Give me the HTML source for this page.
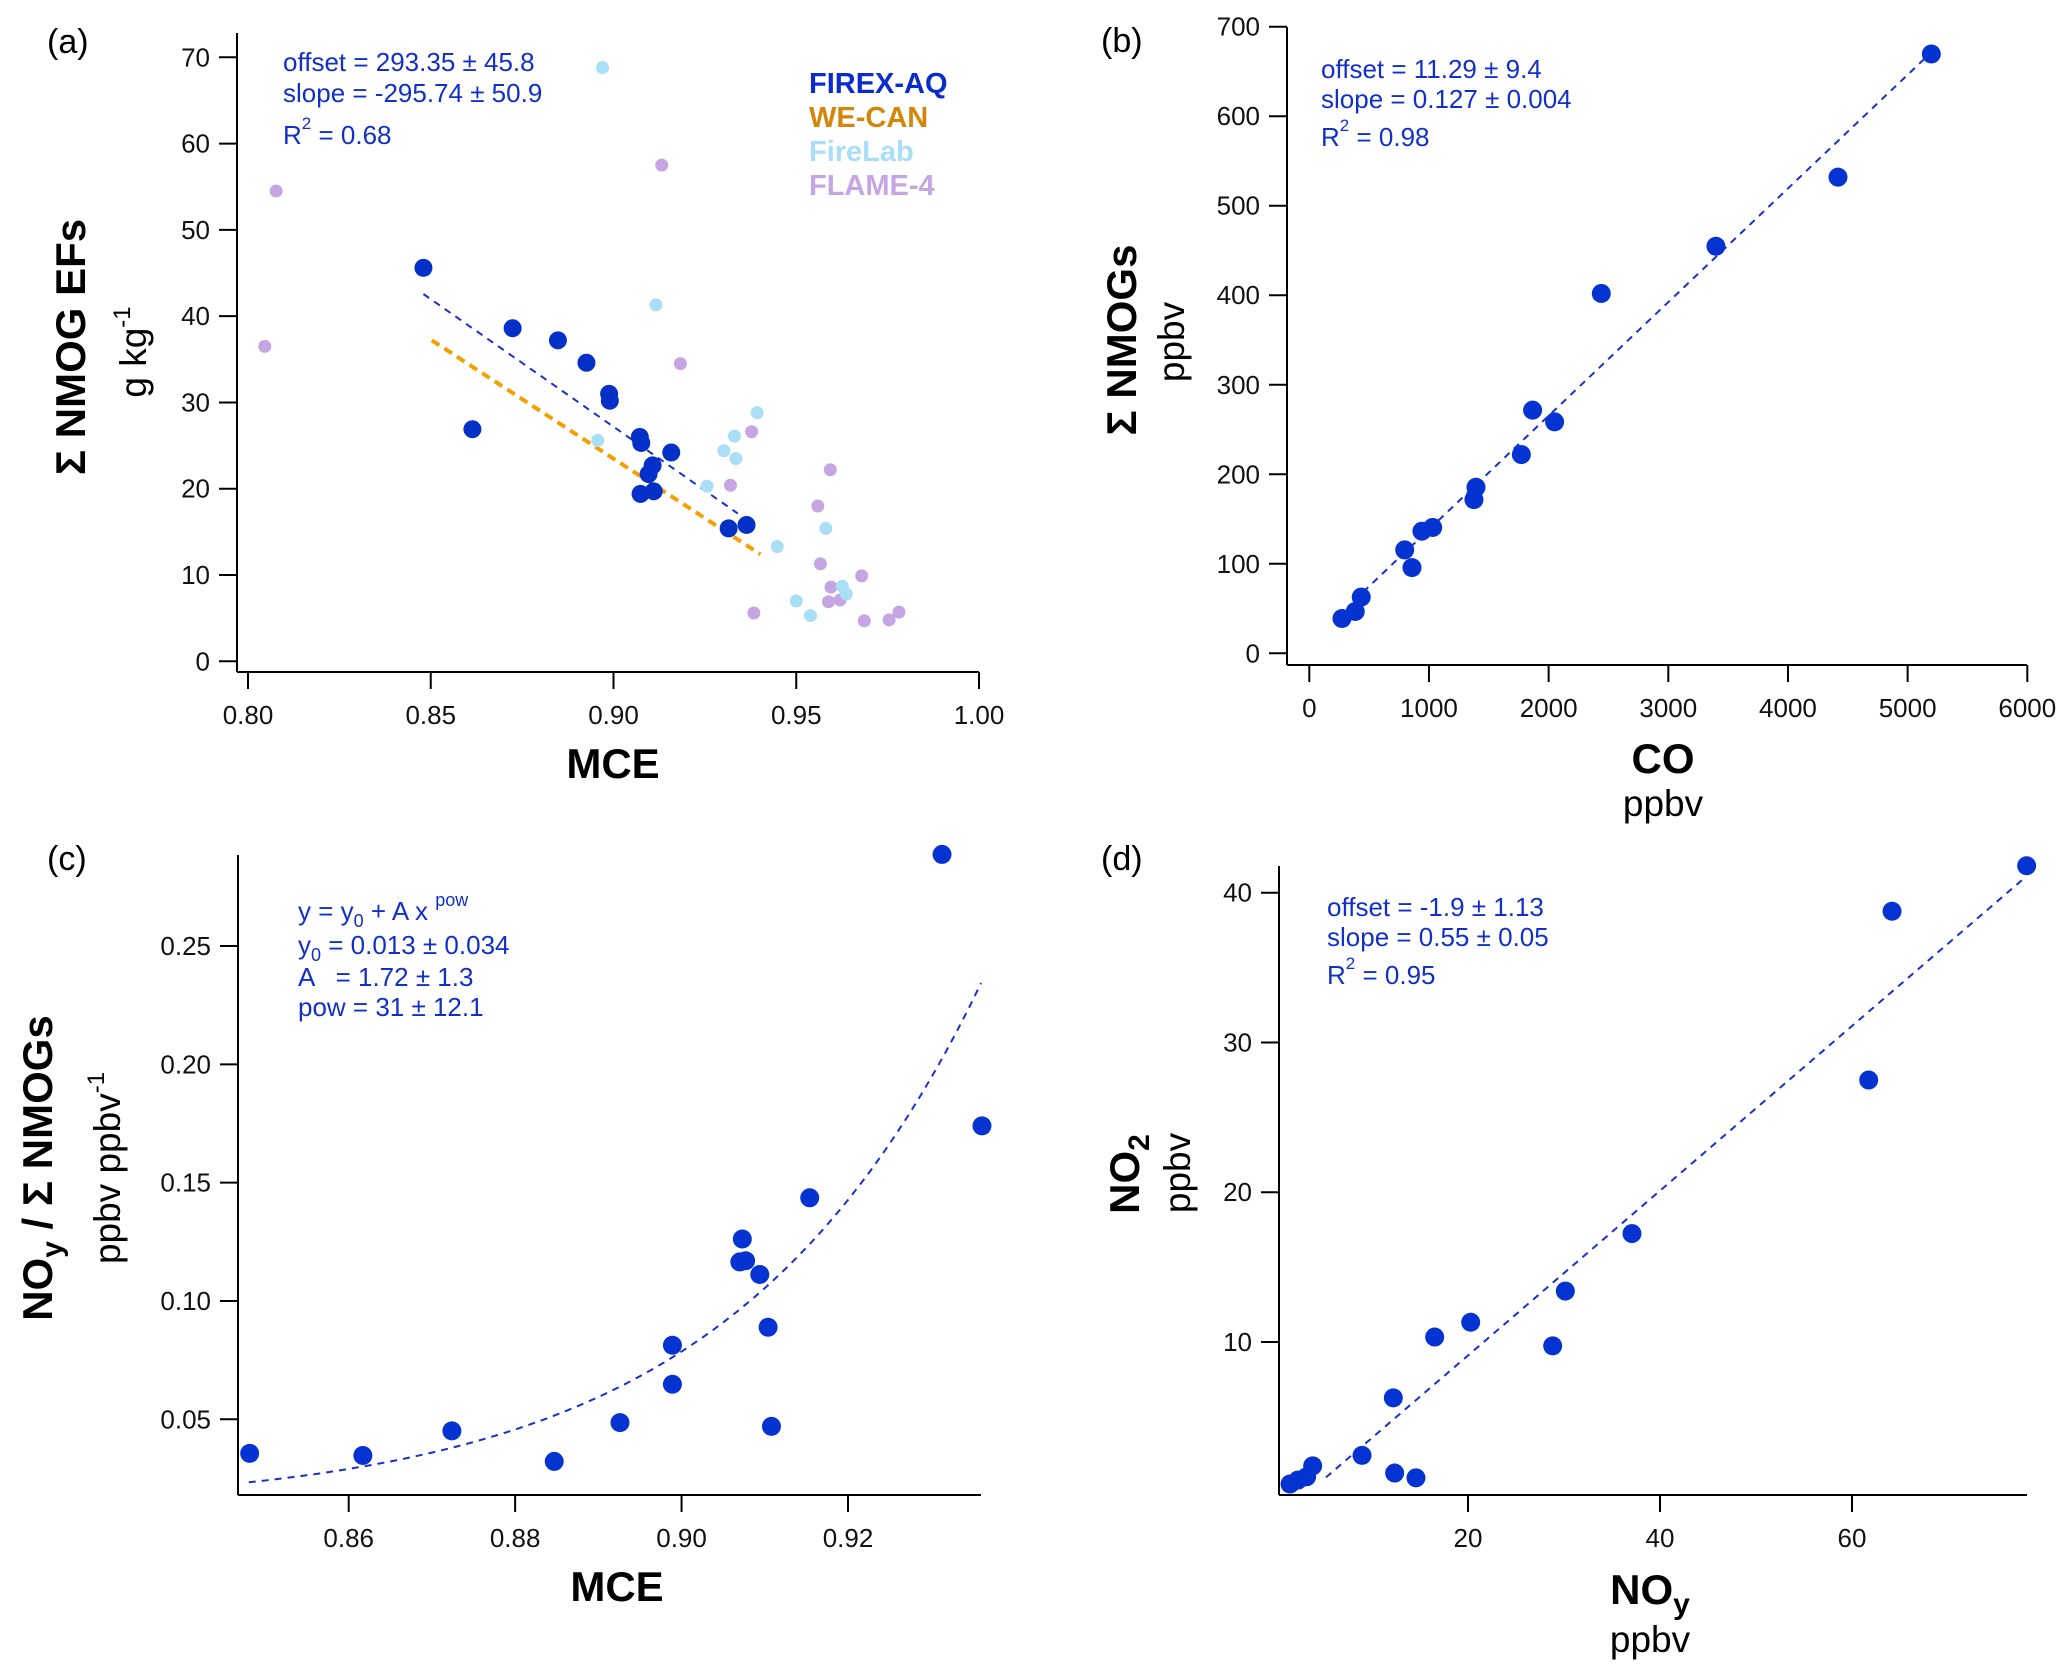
<!DOCTYPE html>
<html><head><meta charset="utf-8"><title>NMOG chart</title>
<style>
html,body{margin:0;padding:0;background:#fff;}
svg{display:block;font-family:"Liberation Sans",Arial,sans-serif;}
.tick{font-size:26px;fill:#111;}
.ann{font-size:26px;fill:#1230c8;}
.ttl{font-size:42px;font-weight:bold;fill:#000;}
.sub{font-size:37px;fill:#000;}
.plab{font-size:34px;fill:#000;}
</style></head>
<body>
<svg id="fig" width="2067" height="1670" viewBox="0 0 2067 1670">
<g id="layer"></g>
<!-- panel labels -->
<text class="plab" x="47" y="53">(a)</text>
<text class="plab" x="1101" y="52">(b)</text>
<text class="plab" x="47" y="870">(c)</text>
<text class="plab" x="1101" y="870">(d)</text>

<!-- panel a text -->
<g>
<text class="ann" x="283" y="71">offset = 293.35 ± 45.8</text>
<text class="ann" x="283" y="102">slope = -295.74 ± 50.9</text>
<text class="ann" x="283" y="144">R<tspan font-size="17" dy="-15">2</tspan><tspan dy="15"> = 0.68</tspan></text>
</g>
<g font-weight="bold" font-size="29">
<text x="809" y="93" fill="#0a2ccc">FIREX-AQ</text>
<text x="809" y="127" fill="#d4860a">WE-CAN</text>
<text x="809" y="161" fill="#a8def6">FireLab</text>
<text x="809" y="195" fill="#c6a6e2">FLAME-4</text>
</g>
<text class="ttl" x="613" y="778" text-anchor="middle">MCE</text>
<text class="ttl" transform="translate(85,347) rotate(-90)" text-anchor="middle">Σ NMOG EFs</text>
<text class="sub" transform="translate(146,352) rotate(-90)" text-anchor="middle">g kg<tspan font-size="24" dy="-16">-1</tspan></text>

<!-- panel b text -->
<g>
<text class="ann" x="1321" y="78">offset = 11.29 ± 9.4</text>
<text class="ann" x="1321" y="108">slope = 0.127 ± 0.004</text>
<text class="ann" x="1321" y="146">R<tspan font-size="17" dy="-15">2</tspan><tspan dy="15"> = 0.98</tspan></text>
</g>
<text class="ttl" x="1663" y="773" text-anchor="middle">CO</text>
<text class="sub" x="1663" y="816" text-anchor="middle">ppbv</text>
<text class="ttl" transform="translate(1136,340) rotate(-90)" text-anchor="middle">Σ NMOGs</text>
<text class="sub" transform="translate(1184,342) rotate(-90)" text-anchor="middle">ppbv</text>

<!-- panel c text -->
<g>
<text class="ann" x="298" y="920" xml:space="preserve">y = y<tspan font-size="18" dy="7">0</tspan><tspan dy="-7"> + A x </tspan><tspan font-size="18" dy="-14">pow</tspan></text>
<text class="ann" x="298" y="954">y<tspan font-size="18" dy="7">0</tspan><tspan dy="-7"> = 0.013 ± 0.034</tspan></text>
<text class="ann" x="298" y="986" xml:space="preserve">A   = 1.72 ± 1.3</text>
<text class="ann" x="298" y="1016">pow = 31 ± 12.1</text>
</g>
<text class="ttl" x="617" y="1601" text-anchor="middle">MCE</text>
<text class="ttl" transform="translate(52,1168) rotate(-90)" text-anchor="middle">NO<tspan font-size="30" dy="10">y</tspan><tspan dy="-10"> / Σ NMOGs</tspan></text>
<text class="sub" transform="translate(120,1168) rotate(-90)" text-anchor="middle">ppbv ppbv<tspan font-size="24" dy="-16">-1</tspan></text>

<!-- panel d text -->
<g>
<text class="ann" x="1327" y="916">offset = -1.9 ± 1.13</text>
<text class="ann" x="1327" y="946">slope = 0.55 ± 0.05</text>
<text class="ann" x="1327" y="984">R<tspan font-size="17" dy="-15">2</tspan><tspan dy="15"> = 0.95</tspan></text>
</g>
<text class="ttl" x="1650" y="1604" text-anchor="middle">NO<tspan font-size="30" dy="10">y</tspan></text>
<text class="sub" x="1650" y="1652" text-anchor="middle">ppbv</text>
<text class="ttl" transform="translate(1139,1174) rotate(-90)" text-anchor="middle">NO<tspan font-size="30" dy="10">2</tspan></text>
<text class="sub" transform="translate(1190,1173) rotate(-90)" text-anchor="middle">ppbv</text>
</svg>
<script>
// ---------- data ----------
// panel a
const firexMCE = [0.848,0.8614,0.8724,0.8848,0.8926,0.8988,0.899,0.9072,0.9076,0.9158,0.9107,0.9096,0.9074,0.911,0.9315,0.9364];
const firexEF  = [45.6,26.9,38.6,37.2,34.6,31.0,30.2,26.0,25.3,24.2,22.7,21.7,19.4,19.7,15.4,15.8];
const firelabMCE = [0.897,0.9116,0.8957,0.9302,0.9331,0.9335,0.9393,0.9256,0.9448,0.9581,0.950,0.9539,0.9626,0.9637];
const firelabEF  = [68.8,41.3,25.6,24.4,26.1,23.5,28.8,20.3,13.3,15.4,7.0,5.3,8.7,7.8];
const flameMCE = [0.8077,0.8046,0.9132,0.9183,0.9378,0.932,0.9593,0.9559,0.9566,0.9595,0.9588,0.962,0.9679,0.9384,0.9686,0.9754,0.9781];
const flameEF  = [54.5,36.5,57.5,34.5,26.6,20.4,22.2,18.0,11.3,8.6,6.9,7.1,9.9,5.6,4.7,4.8,5.7];
const firexFit = [293.35,-295.74];          // offset, slope
const firexFitRange = [0.848,0.934];
const wecanFitX = [0.8503,0.9402];
const wecanFitY = [37.2,12.4];
const aXTicks = [0.80,0.85,0.90,0.95,1.00];
const aYTicks = [0,10,20,30,40,50,60,70];
// panel b
const coPpbv   = [273,384,434,797,858,941,1031,1376,1393,1772,1866,2050,2440,3398,4418,5198];
const nmogPpbv = [38.9,46.7,62.8,115.5,95.7,136.4,140.6,171.7,185.5,222,271.6,258.5,402,454.7,531.9,669.5];
const bFit = [11.29,0.127];
const bFitRange = [450,5200];
const bXTicks = [0,1000,2000,3000,4000,5000,6000];
const bYTicks = [0,100,200,300,400,500,600,700];
// panel c
const cMCE   = [0.8481,0.8617,0.8724,0.8847,0.8926,0.8989,0.8989,0.9073,0.907,0.9077,0.9094,0.9104,0.9108,0.9154,0.9313,0.9361];
const cRatio = [0.0356,0.0347,0.0451,0.0322,0.0486,0.0813,0.0648,0.1262,0.1165,0.117,0.1112,0.0889,0.047,0.1436,0.2887,0.174];
const cFit = [0.013,1.72,31];               // y0, A, pow
const cFitRange = [0.848,0.936];
const cXTicks = [0.86,0.88,0.90,0.92];
const cYTicks = [0.05,0.10,0.15,0.20,0.25];
// panel d
const noy = [1.46,2.29,3.19,3.82,8.96,12.22,12.36,14.58,16.53,20.28,28.82,30.14,37.08,61.74,64.17,78.19];
const no2 = [0.52,0.78,1.0,1.73,2.43,6.27,1.25,0.93,10.33,11.32,9.74,13.4,17.24,27.49,38.76,41.8];
const dFit = [-1.9,0.55];
const dFitRange = [5.2,78];
const dXTicks = [20,40,60];
const dYTicks = [10,20,30,40];

// ---------- drawing ----------
const NS = 'http://www.w3.org/2000/svg';
const layer = document.getElementById('layer');
function mk(tag, attrs, parent){
  const e = document.createElementNS(NS, tag);
  for (const k in attrs) e.setAttribute(k, attrs[k]);
  (parent||layer).appendChild(e);
  return e;
}
function makeScale(d0,d1,p0,p1){ return v => p0 + (v-d0)/(d1-d0)*(p1-p0); }

function drawAxes(name, box, sx, sy, xt, yt, xfmt, yfmt){
  const g = mk('g', {});
  
  
  mk('line',{x1:box.l,y1:box.t,x2:box.l,y2:box.b,stroke:'#000','stroke-width':2},g);
  mk('line',{x1:box.l,y1:box.b,x2:box.r,y2:box.b,stroke:'#000','stroke-width':2},g);
  xt.forEach(v=>{
    const x = sx(v);
    mk('line',{x1:x,y1:box.b,x2:x,y2:box.b+17,stroke:'#000','stroke-width':2},g);
    const t = mk('text',{x:x,y:box.b+52,'text-anchor':'middle',class:'tick'},g);
    
    
    t.textContent = xfmt(v);
  });
  yt.forEach(v=>{
    const y = sy(v);
    mk('line',{x1:box.l-18,y1:y,x2:box.l,y2:y,stroke:'#000','stroke-width':2},g);
    const t = mk('text',{x:box.l-27,y:y+9,'text-anchor':'end',class:'tick'},g);
    
    
    t.textContent = yfmt(v);
  });
}
function drawPoints(name, xs, ys, sx, sy, r, color){
  const g = mk('g', {});
  
  
  xs.forEach((v,i)=>{
    const c = mk('circle',{cx:sx(v),cy:sy(ys[i]),r:r,fill:color},g);
    
    
  });
}
function drawLine(name, pts, color, w, dash){
  const d = pts.map((p,i)=>(i?'L':'M')+p[0].toFixed(1)+' '+p[1].toFixed(1)).join(' ');
  const p = mk('path',{d:d,fill:'none',stroke:color,'stroke-width':w,'stroke-dasharray':dash});
  
  
}
const f2 = v=>v.toFixed(2), f0 = v=>String(v);

// panel a
(function(){
  const box={l:237,r:979,t:33,b:672};
  const sx=makeScale(0.80,1.00,248,979), sy=makeScale(0,70,661.3,57.3);
  drawAxes('panel-a',box,sx,sy,aXTicks,aYTicks,f2,f0);
  drawLine('we-can-fit-line',[[sx(wecanFitX[0]),sy(wecanFitY[0])],[sx(wecanFitX[1]),sy(wecanFitY[1])]],'#f5a000',4,'9 6');
  drawLine('firex-aq-fit-line',firexFitRange.map(x=>[sx(x),sy(firexFit[0]+firexFit[1]*x)]),'#1a30c8',2,'7 6');
  drawPoints('flame-4-points',flameMCE,flameEF,sx,sy,6.5,'#c6a6e2');
  drawPoints('firelab-points',firelabMCE,firelabEF,sx,sy,6.5,'#a8def6');
  drawPoints('firex-aq-points',firexMCE,firexEF,sx,sy,9,'#0530c8');
})();
// panel b
(function(){
  const box={l:1287,r:2027,t:27,b:665};
  const sx=makeScale(0,6000,1309.3,2027.3), sy=makeScale(0,700,653.3,26.7);
  drawAxes('panel-b',box,sx,sy,bXTicks,bYTicks,f0,f0);
  drawLine('panel-b-fit-line',bFitRange.map(x=>[sx(x),sy(bFit[0]+bFit[1]*x)]),'#1a30c8',2,'7 6');
  drawPoints('panel-b-points',coPpbv,nmogPpbv,sx,sy,9.5,'#0533d2');
})();
// panel c
(function(){
  const box={l:238,r:981,t:855,b:1495};
  const sx=makeScale(0.86,0.92,348.7,848), sy=makeScale(0.05,0.25,1419.3,946);
  drawAxes('panel-c',box,sx,sy,cXTicks,cYTicks,f2,f2);
  const pts=[];
  for(let i=0;i<=60;i++){
    const x=cFitRange[0]+(cFitRange[1]-cFitRange[0])*i/60;
    pts.push([sx(x),sy(cFit[0]+cFit[1]*Math.pow(x,cFit[2]))]);
  }
  drawLine('panel-c-fit-curve',pts,'#1a30c8',2,'7 6');
  drawPoints('panel-c-points',cMCE,cRatio,sx,sy,9.5,'#0533d2');
})();
// panel d
(function(){
  const box={l:1279,r:2027,t:866,b:1495};
  const sx=makeScale(20,60,1468,1852), sy=makeScale(10,40,1342,892.7);
  drawAxes('panel-d',box,sx,sy,dXTicks,dYTicks,f0,f0);
  drawLine('panel-d-fit-line',dFitRange.map(x=>[sx(x),sy(dFit[0]+dFit[1]*x)]),'#1a30c8',2,'7 6');
  drawPoints('panel-d-points',noy,no2,sx,sy,9.5,'#0533d2');
})();
</script>
</body></html>
